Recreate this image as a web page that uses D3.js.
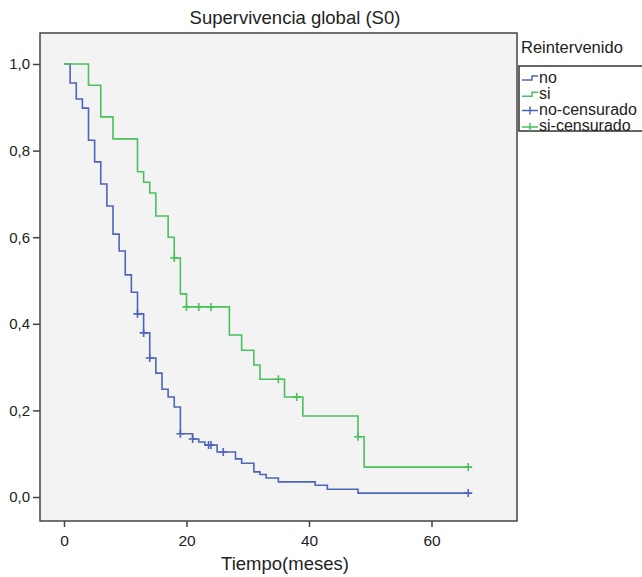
<!DOCTYPE html>
<html>
<head>
<meta charset="utf-8">
<script src="https://cdn.jsdelivr.net/npm/d3@7"></script>
<style>
  body { margin: 0; background: #fff; }
  svg { font-family: "Liberation Sans", Arial, sans-serif; }
</style>
</head>
<body>
<div id="chart"></div>
<script>
// Kaplan-Meier steps
const noTimes = [0, 1, 2, 3, 4, 5, 6, 7, 8, 9, 10, 11, 12, 13, 14, 15, 16, 17, 18, 19, 21, 22, 23, 25, 28, 29, 31, 32, 33, 35, 41, 43, 48];
const noSurv  = [1, 0.956, 0.919, 0.898, 0.824, 0.774, 0.723, 0.672, 0.607, 0.568, 0.513, 0.473, 0.423, 0.379, 0.321, 0.286, 0.249, 0.231, 0.208, 0.146, 0.134, 0.127, 0.12, 0.104, 0.088, 0.078, 0.058, 0.052, 0.044, 0.035, 0.027, 0.018, 0.009];
const noCensored = [12, 13, 14, 19, 21, 23.6, 24, 26, 66];

const siTimes = [0, 4, 6, 8, 12, 13, 14, 15, 17, 18, 19, 20, 27, 29, 31, 32, 36, 39, 48, 49];
const siSurv  = [1, 0.951, 0.878, 0.827, 0.751, 0.727, 0.702, 0.649, 0.600, 0.552, 0.469, 0.439, 0.374, 0.339, 0.305, 0.272, 0.231, 0.187, 0.139, 0.069];
const siCensored = [18, 20, 22, 24, 35, 38, 48, 66];

const endTime = 66;
const xTicks = [0, 20, 40, 60];
const yTicks = [0, 0.2, 0.4, 0.6, 0.8, 1.0];
const groups = ["no", "si"];
const legendLabels = ["no", "si", "no-censurado", "si-censurado"];

const width = 642, height = 577;
const frame = { left: 40, top: 33, right: 517, bottom: 521 };

const x = d3.scaleLinear().domain([0, 60]).range([64, 431.5]);
const y = d3.scaleLinear().domain([0, 1]).range([497, 64]);

const color = { no: "#4d64bd", si: "#49c15c" };

const svg = d3.select("#chart").append("svg")
  .attr("width", width)
  .attr("height", height);

// plot background and frame
svg.append("rect")
  .attr("x", frame.left).attr("y", frame.top)
  .attr("width", frame.right - frame.left)
  .attr("height", frame.bottom - frame.top)
  .attr("fill", "#f3f3f3")
  .attr("stroke", "#444")
  .attr("stroke-width", 1.5);

svg.append("text")
  .attr("x", 295).attr("y", 24)
  .attr("text-anchor", "middle")
  .attr("font-size", 18.5)
  .attr("fill", "#222")
  .text("Supervivencia global (S0)");

// y axis
const yAxis = d3.axisLeft(y)
  .tickValues(yTicks)
  .tickSize(7)
  .tickFormat(d => d3.format(".1f")(d).replace(".", ","));
const gy = svg.append("g")
  .attr("transform", `translate(${frame.left},0)`)
  .call(yAxis);
gy.select(".domain").remove();
gy.selectAll("line").attr("stroke", "#444").attr("stroke-width", 1.5);
gy.selectAll("text").attr("font-size", 15).attr("fill", "#222")
  .attr("font-family", "Liberation Sans, Arial, sans-serif").attr("x", -10);

// x axis
const xAxis = d3.axisBottom(x)
  .tickValues(xTicks)
  .tickSize(6)
  .tickFormat(d3.format("d"));
const gx = svg.append("g")
  .attr("transform", `translate(0,${frame.bottom})`)
  .call(xAxis);
gx.select(".domain").remove();
gx.selectAll("line").attr("stroke", "#444").attr("stroke-width", 1.5);
gx.selectAll("text").attr("font-size", 15.5).attr("fill", "#222")
  .attr("font-family", "Liberation Sans, Arial, sans-serif").attr("dy", "1.0em");

svg.append("text")
  .attr("x", 285).attr("y", 570)
  .attr("text-anchor", "middle")
  .attr("font-size", 18.5)
  .attr("fill", "#222")
  .text("Tiempo(meses)");

// curves
const line = d3.line()
  .x(d => x(d[0]))
  .y(d => y(d[1]))
  .curve(d3.curveStepAfter);

function survivalAt(times, surv, t) {
  let s = surv[0];
  times.forEach((ti, i) => { if (ti <= t) s = surv[i]; });
  return s;
}

const series = {
  no: { times: noTimes, surv: noSurv, cens: noCensored },
  si: { times: siTimes, surv: siSurv, cens: siCensored }
};

groups.forEach(g => {
  const s = series[g];
  const pts = s.times.map((t, i) => [t, s.surv[i]]);
  pts.push([endTime, s.surv[s.surv.length - 1]]);

  svg.append("path")
    .datum(pts)
    .attr("d", line)
    .attr("fill", "none")
    .attr("stroke", color[g])
    .attr("stroke-width", 1.6);

  svg.append("g").selectAll("path")
    .data(s.cens)
    .enter()
    .append("path")
    .attr("d", t => {
      const cx = x(t), cy = y(survivalAt(s.times, s.surv, t));
      return `M${cx - 4},${cy}H${cx + 4}M${cx},${cy - 4}V${cy + 4}`;
    })
    .attr("stroke", color[g])
    .attr("stroke-width", 1.6);
});

// legend
svg.append("text")
  .attr("x", 521).attr("y", 53)
  .attr("font-size", 16.5)
  .attr("fill", "#222")
  .text("Reintervenido");

svg.append("rect")
  .attr("x", 519).attr("y", 66)
  .attr("width", 140).attr("height", 65)
  .attr("fill", "#fff")
  .attr("stroke", "#333")
  .attr("stroke-width", 1.5);

const legend = svg.append("g").selectAll("g")
  .data(legendLabels)
  .enter()
  .append("g")
  .attr("transform", (d, i) => `translate(522,${77 + i * 16.3})`);

legend.append("path")
  .attr("d", (d, i) => i < 2 ? "M0,3H10V-1H16" : "M0,1H16M8,-3V5")
  .attr("fill", "none")
  .attr("stroke", (d, i) => color[groups[i % 2]])
  .attr("stroke-width", 1.5);

legend.append("text")
  .attr("x", 17).attr("y", 5.5)
  .attr("font-size", 16)
  .attr("fill", "#222")
  .text(d => d);
</script>
</body>
</html>
